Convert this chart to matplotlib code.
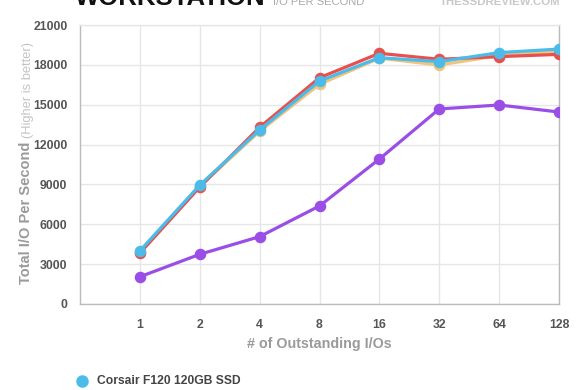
import matplotlib
matplotlib.use("Agg")
import matplotlib.pyplot as plt
from matplotlib.lines import Line2D

plt.rcParams['font.family'] = ['Liberation Sans', 'DejaVu Sans']

categories = ["1", "2", "4", "8", "16", "32", "64", "128"]
orange_vals = [3900, 8850, 13000, 16540, 18500, 17990, 18700, 19040]
red_vals = [3830, 8800, 13300, 17030, 18870, 18420, 18620, 18790]
blue_vals = [4000, 8950, 13100, 16780, 18540, 18240, 18920, 19190]
purple_vals = [2050, 3740, 5070, 7380, 10910, 14680, 14980, 14450]
y_ticks = [0, 3000, 6000, 9000, 12000, 15000, 18000, 21000]

colors = {"orange": "#f0c47e", "red": "#e8504e", "blue": "#4bbce9", "purple": "#9b4ee6"}

fig = plt.figure(figsize=(5.8, 3.9), dpi=100)
ax = fig.add_axes([80/580, 1-304/390, (559-80)/580, (304-25)/390])

x = list(range(1, len(categories) + 1))
for vals, c in [(purple_vals, colors["purple"]), (orange_vals, colors["orange"]),
                (red_vals, colors["red"]), (blue_vals, colors["blue"])]:
    ax.plot(x, vals, color=c, lw=2.3, marker='o', ms=7.3, solid_capstyle='round', zorder=3)

ax.set_xlim(0, len(categories))
ax.set_ylim(0, 21000)
ax.set_xticks(x)
ax.set_xticklabels(categories)
ax.set_yticks(y_ticks)
ax.set_yticklabels([str(v) for v in y_ticks])
ax.grid(True, color="#e6e6e6", lw=1, zorder=0)
ax.tick_params(length=0, labelsize=8.8, colors="#555555")
for lab in ax.get_xticklabels() + ax.get_yticklabels():
    lab.set_fontweight('bold')
ax.tick_params(axis='x', pad=11)
ax.tick_params(axis='y', pad=9)
for s in ax.spines.values():
    s.set_color("#bbbbbb")
    s.set_linewidth(1)
ax.spines['top'].set_color("#e6e6e6")

ax.set_xlabel("# of Outstanding I/Os", fontsize=10.3, color="#9a9a9a", fontweight='bold', labelpad=4)

fig.text(26/580, 1-213/390, "Total I/O Per Second", rotation=90, ha='center', va='center',
         fontsize=10.5, color="#9a9a9a", fontweight='bold')
fig.text(28/580, 1-90/390, "(Higher is better)", rotation=90, ha='center', va='center',
         fontsize=9.3, color="#c4c4c4")

fig.text(75/580, 1-5/390, "WORKSTATION", ha='left', va='baseline', fontsize=18.5,
         fontweight='bold', color="#111111")
fig.text(273/580, 1-5/390, "I/O PER SECOND", ha='left', va='baseline', fontsize=8,
         color="#aaaaaa")
fig.text(560/580, 1-5/390, "THESSDREVIEW.COM", ha='right', va='baseline', fontsize=8.2,
         fontweight='bold', color="#c8c8c8")

fig.lines.append(Line2D([82/580], [1-381/390], marker='o', ms=8, color=colors["blue"],
                        transform=fig.transFigure, lw=0))
fig.text(97/580, 1-381/390, "Corsair F120 120GB SSD", ha='left', va='center', fontsize=8.7,
         fontweight='bold', color="#444444")

fig.savefig("out.png", dpi=100)
